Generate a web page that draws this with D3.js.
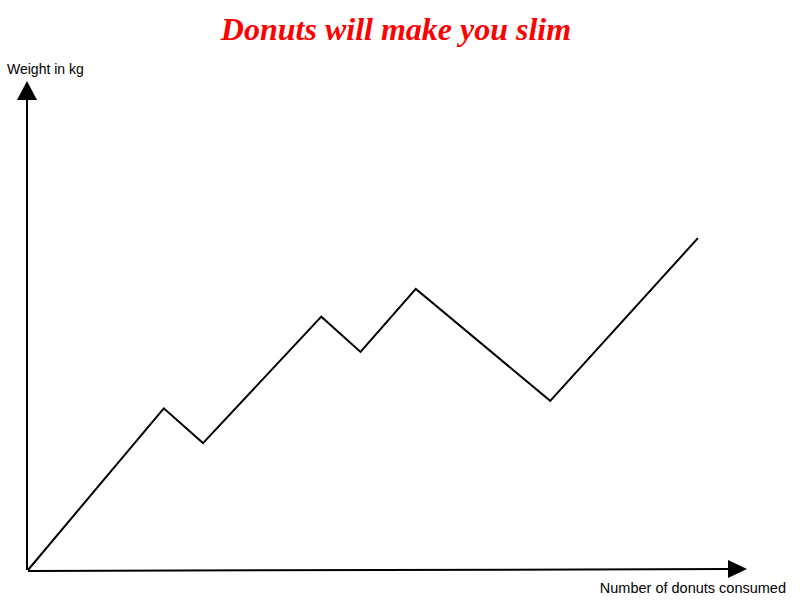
<!DOCTYPE html>
<html><head><meta charset="utf-8">
<script src="https://cdn.jsdelivr.net/npm/d3@7"></script>
<style>body{margin:0;background:#fff}</style>
</head><body>
<svg id="c" width="800" height="600"></svg>
<script>
const donuts = [0, 19.4, 25.0, 41.9, 47.5, 55.4, 74.6, 95.7];
const weight = [0, 34.4, 27.0, 53.9, 46.4, 59.8, 36.0, 70.6];
const title = "Donuts will make you slim";
const xLabel = "Number of donuts consumed";
const yLabel = "Weight in kg";

const svg = d3.select("#c");
const x = d3.scaleLinear().domain([0, 100]).range([28, 728]);
const y = d3.scaleLinear().domain([0, 100]).range([570, 100]);

// title
svg.append("text").attr("x", 396).attr("y", 40).attr("text-anchor", "middle")
  .attr("font-family", "Liberation Serif, Times New Roman, serif")
  .attr("font-weight", "bold").attr("font-style", "italic")
  .attr("font-size", 32).attr("fill", "#ff0000").text(title);

// axes
svg.append("line").attr("x1", x(0)).attr("y1", y(0) + 1).attr("x2", x(100) + 2).attr("y2", y(0) - 1)
  .attr("stroke", "#000").attr("stroke-width", 2);
svg.append("path").attr("d", `M${x(100)},${y(0)-10} L${x(100)+19},${y(0)-1} L${x(100)},${y(0)+8} Z`).attr("fill", "#000");
svg.append("line").attr("x1", x(0) - 1).attr("y1", y(0)).attr("x2", x(0) - 1).attr("y2", y(100))
  .attr("stroke", "#000").attr("stroke-width", 2);
svg.append("path").attr("d", `M${x(0)-11},${y(100)} L${x(0)-1},${y(100)-19} L${x(0)+9},${y(100)} Z`).attr("fill", "#000");

// labels
svg.append("text").attr("x", 7).attr("y", 74).attr("font-family", "Liberation Sans, Arial, sans-serif")
  .attr("font-size", 14).attr("fill", "#000").text(yLabel);
svg.append("text").attr("x", 786).attr("y", 593).attr("text-anchor", "end")
  .attr("font-family", "Liberation Sans, Arial, sans-serif")
  .attr("font-size", 14.5).attr("fill", "#000").text(xLabel);

// line
const pts = donuts.map((d, i) => [d, weight[i]]);
svg.append("path").datum(pts)
  .attr("d", d3.line().x(d => x(d[0])).y(d => y(d[1])))
  .attr("fill", "none").attr("stroke", "#000").attr("stroke-width", 2).attr("stroke-linejoin", "miter");
</script>
</body></html>
